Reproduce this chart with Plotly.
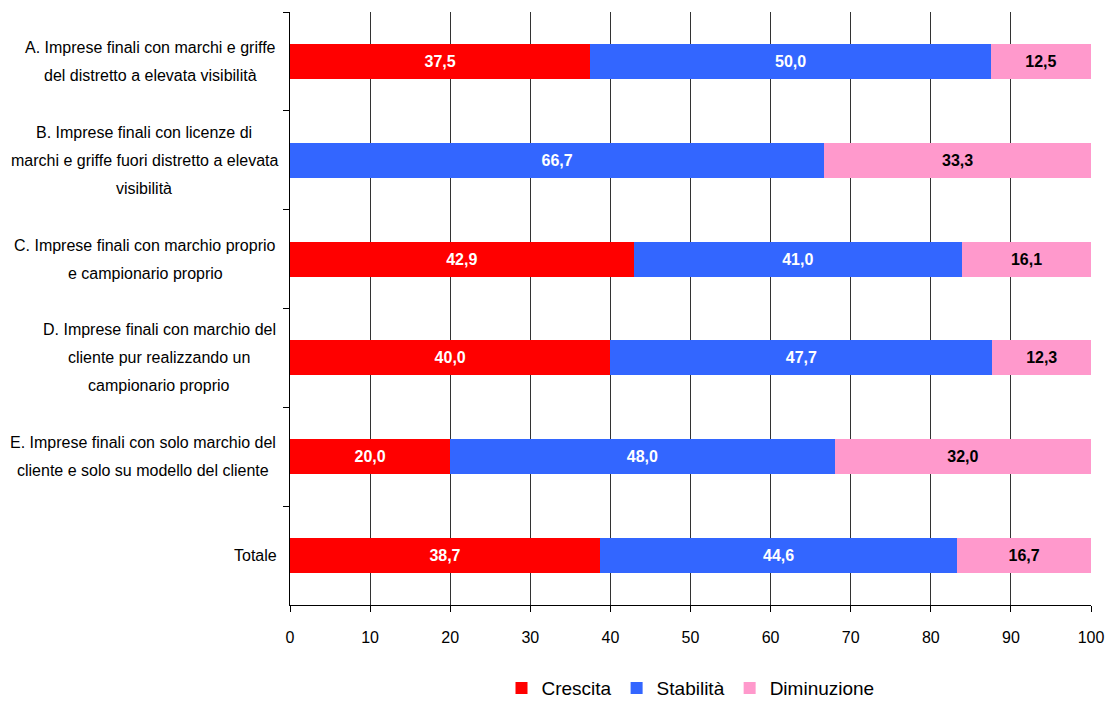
import plotly.graph_objects as go

# Categories (top to bottom), each label split into its display lines
categories = ["A", "B", "C", "D", "E", "Totale"]
category_lines = [
    ["A. Imprese finali con marchi e griffe", "del distretto a elevata visibilità"],
    ["B. Imprese finali con licenze di", "marchi e griffe fuori distretto a elevata", "visibilità"],
    ["C. Imprese finali con marchio proprio", "e campionario proprio"],
    ["D. Imprese finali con marchio del", "cliente pur realizzando un", "campionario proprio"],
    ["E. Imprese finali con solo marchio del", "cliente e solo su modello del cliente"],
    ["Totale"],
]

crescita = [37.5, 0.0, 42.9, 40.0, 20.0, 38.7]
stabilita = [50.0, 66.7, 41.0, 47.7, 48.0, 44.6]
diminuzione = [12.5, 33.3, 16.1, 12.3, 32.0, 16.7]

x_ticks = [0, 10, 20, 30, 40, 50, 60, 70, 80, 90, 100]

FONT = "Liberation Sans, Arial, sans-serif"
LABEL_SIZE = 16

# Advance widths (1/1000 em) of Liberation Sans / Arial, used to centre
# the lines of each category label on a common column.
GLYPH_W = {
    " ": 278, ".": 278, "a": 556, "à": 556, "b": 556, "c": 500, "d": 556,
    "e": 556, "f": 278, "g": 556, "h": 556, "i": 222, "k": 500, "l": 222,
    "m": 833, "n": 556, "o": 556, "p": 556, "r": 333, "s": 500, "t": 278,
    "u": 556, "v": 500, "z": 500, "A": 667, "B": 667, "C": 722, "D": 722,
    "E": 667, "T": 611,
}


def text_width(s, size):
    return sum(GLYPH_W.get(ch, 556) for ch in s) * size / 1000.0


def fmt(values):
    return [("" if v == 0 else f"{v:.1f}".replace(".", ",")) for v in values]


series = [
    ("Crescita", crescita, "#FF0000", "white"),
    ("Stabilità", stabilita, "#3366FF", "white"),
    ("Diminuzione", diminuzione, "#FF99CC", "black"),
]

fig = go.Figure()
for name, vals, color, tcolor in series:
    fig.add_trace(go.Bar(
        name=name,
        y=categories,
        x=vals,
        orientation="h",
        marker=dict(color=color, line=dict(width=0)),
        text=fmt(vals),
        textposition="inside",
        insidetextanchor="middle",
        textangle=0,
        constraintext="none",
        textfont=dict(family=FONT, size=16, color=tcolor, weight="bold"),
        width=0.355,
        hoverinfo="skip",
    ))

# Category labels: one annotation per line, centred on the label block
LINE_H = 28
GAP = 12
annotations = []
for cat, lines in zip(categories, category_lines):
    n = len(lines)
    block_w = max(text_width(l, LABEL_SIZE) for l in lines)
    for i, line in enumerate(lines):
        offset = i - (n - 1) / 2
        annotations.append(dict(
            x=0, xref="paper", xanchor="center",
            y=cat, yref="y", yanchor="middle",
            xshift=-(GAP + block_w / 2), yshift=-offset * LINE_H,
            text=line, showarrow=False, align="center",
            font=dict(family=FONT, size=LABEL_SIZE, color="black"),
        ))

fig.update_layout(
    barmode="stack",
    width=1107, height=705,
    margin=dict(l=290, r=16, t=12, b=100),
    paper_bgcolor="white", plot_bgcolor="white",
    font=dict(family=FONT, size=16, color="black"),
    showlegend=True,
    legend=dict(
        orientation="h", x=0.5, xanchor="center", xref="paper",
        y=0.024, yanchor="middle", yref="container",
        font=dict(family=FONT, size=19, color="black"),
        traceorder="normal", itemwidth=30,
    ),
    xaxis=dict(
        range=[0, 100], tickvals=x_ticks, ticktext=[str(t) for t in x_ticks],
        showgrid=True, gridcolor="#333333", gridwidth=1,
        showline=True, linecolor="black", linewidth=1,
        ticks="outside", ticklen=6, tickcolor="black",
        ticklabelstandoff=12, automargin=False,
        tickfont=dict(family=FONT, size=16), zeroline=False,
    ),
    yaxis=dict(
        categoryorder="array", categoryarray=categories,
        autorange="reversed", automargin=False,
        showticklabels=False,
        showline=True, linecolor="black", linewidth=1,
        ticks="outside", ticklen=6, tickcolor="black",
        tickson="boundaries", showgrid=False,
    ),
    annotations=annotations,
)

fig.write_html("out.html")
